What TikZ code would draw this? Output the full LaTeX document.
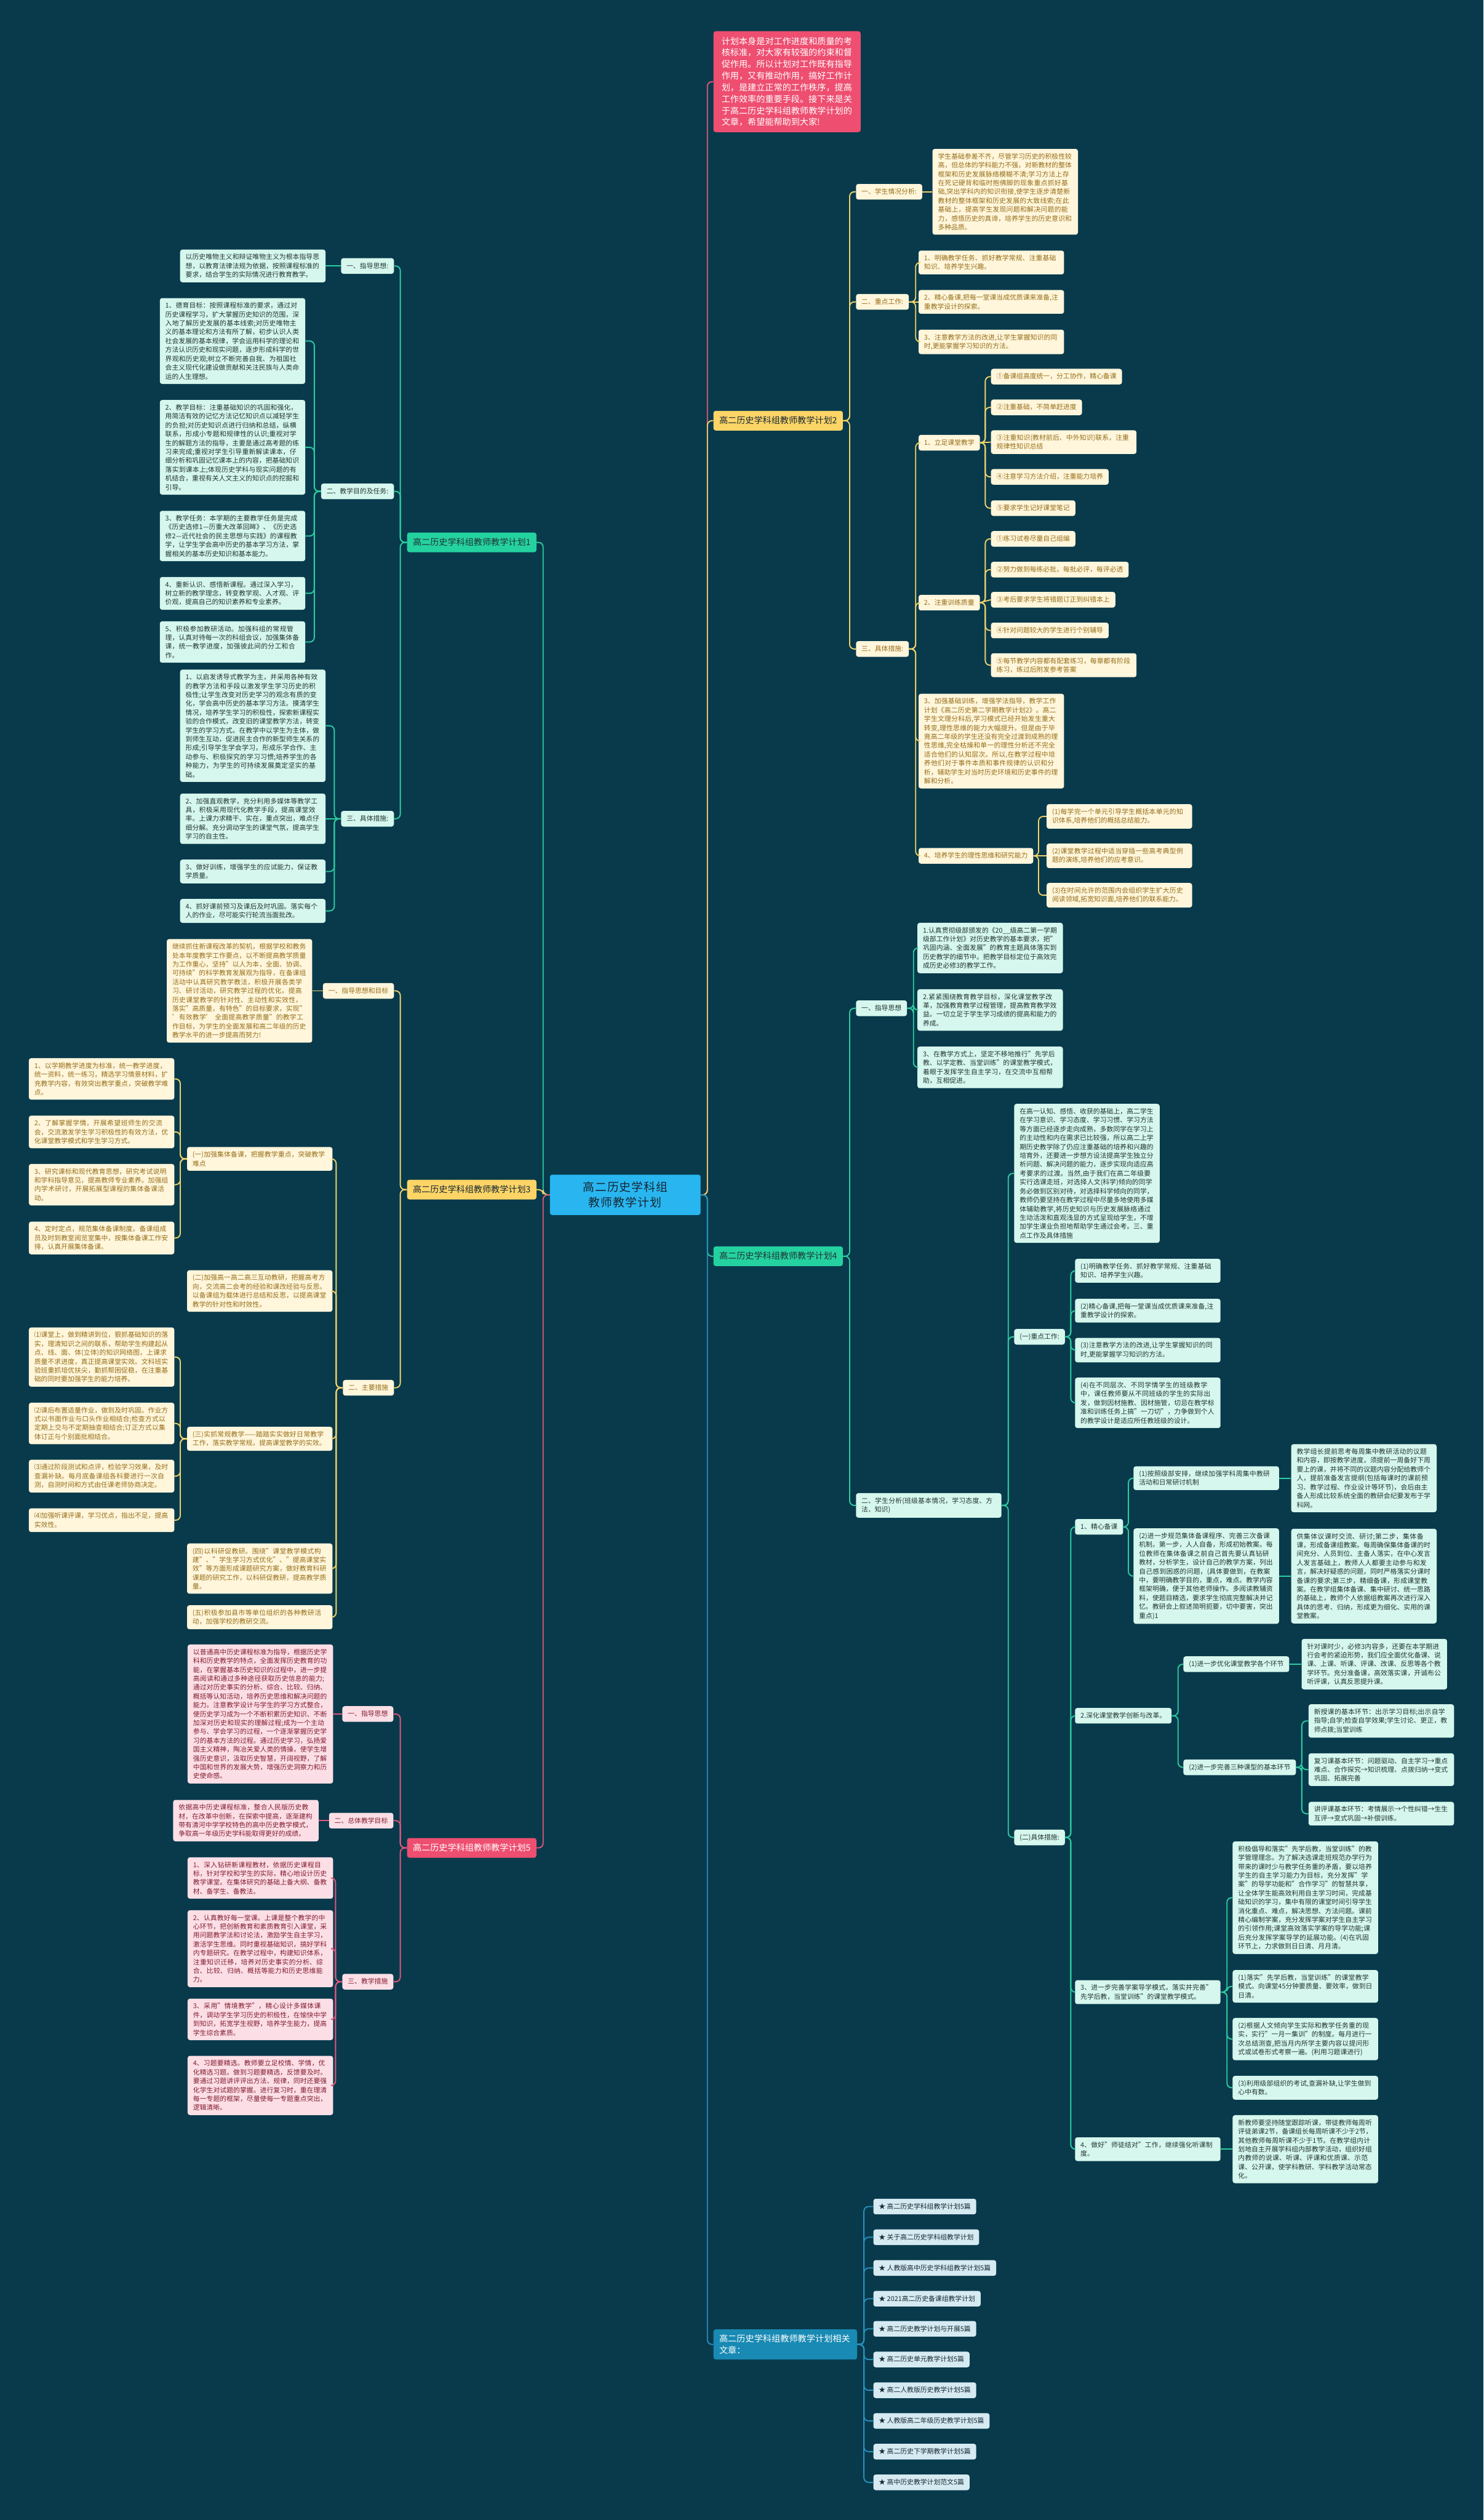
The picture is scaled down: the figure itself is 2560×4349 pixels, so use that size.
\documentclass[tikz,border=0pt]{standalone}
\usepackage{fontspec}
\setmainfont{Noto Sans CJK SC}
\XeTeXlinebreaklocale "zh"
\XeTeXlinebreakskip = 0pt plus 1pt
\newcommand\leafsize{\fontsize{11.5}{15.3}\selectfont}
\newcommand\labelsize{\fontsize{15}{20}\selectfont}
\newcommand\rootsize{\fontsize{20}{27}\selectfont}
\definecolor{bgcol}{RGB}{8,58,76}
\definecolor{rootfill}{RGB}{41,182,240}
\definecolor{greenline}{RGB}{46,204,160}
\definecolor{greenfill}{RGB}{36,210,160}
\definecolor{mintfill}{RGB}{214,247,237}
\definecolor{minttext}{RGB}{34,52,52}
\definecolor{yellowline}{RGB}{242,211,104}
\definecolor{yellowfill}{RGB}{253,213,102}
\definecolor{creamfill}{RGB}{255,246,220}
\definecolor{creamtext}{RGB}{150,110,24}
\definecolor{pinkline}{RGB}{226,86,122}
\definecolor{pinkfill}{RGB}{238,78,112}
\definecolor{rosefill}{RGB}{252,223,230}
\definecolor{rosetext}{RGB}{130,28,48}
\definecolor{blueline}{RGB}{40,144,188}
\definecolor{bluefill}{RGB}{24,138,180}
\definecolor{icefill}{RGB}{214,234,242}
\definecolor{icetext}{RGB}{22,40,52}

\begin{document}
\begin{tikzpicture}[
        x=1pt, y=-1pt,
        every node/.style={rounded corners=4pt, inner xsep=9.5pt, inner ysep=7.5pt, font=\leafsize},
        leaf/.style={text width=232pt, align=left},
        tag/.style={text height=10pt, text depth=2pt},
        branch/.style={font=\labelsize, inner xsep=10pt, inner ysep=9pt, text height=13pt, text depth=3pt},
        rootbox/.style={fill=rootfill, text=icetext, font=\rootsize, text width=222pt, align=center, inner xsep=19pt, inner ysep=12pt},
        introbox/.style={fill=pinkfill, text=white, font=\labelsize, text width=226pt, align=left, inner xsep=14pt, inner ysep=10pt},
        mint/.style={fill=mintfill, text=minttext},
        cream/.style={fill=creamfill, text=creamtext},
        rose/.style={fill=rosefill, text=rosetext},
        ice/.style={fill=icefill, text=icetext},
        glink/.style={draw=greenline, line width=2pt, rounded corners=8pt},
        ylink/.style={draw=yellowline, line width=2pt, rounded corners=8pt},
        plink/.style={draw=pinkline, line width=2pt, rounded corners=8pt},
        blink/.style={draw=blueline, line width=2pt, rounded corners=8pt}
    ]
    \useasboundingbox (0,0) rectangle (2560,4349);
    \fill[bgcol] (0,0) rectangle (2560,4349);

    % Nodes
    \node[rootbox] (root) at (1079,2062) {高二历史学科组教师教学计划};

    \node[introbox, anchor=west] (intro) at (1231,141) {计划本身是对工作进度和质量的考核标准，对大家有较强的约束和督促作用。所以计划对工作既有指导作用，又有推动作用，搞好工作计划，是建立正常的工作秩序，提高工作效率的重要手段。接下来是关于高二历史学科组教师教学计划的文章，希望能帮助到大家!};

    % plan 1 (left, green)
    \node[branch, fill=greenfill, text=minttext, anchor=east] (plan1) at (926,936) {高二历史学科组教师教学计划1};
    \node[tag, mint, anchor=east] (guide1) at (680,459) {一、指导思想:};
    \node[leaf, mint, anchor=east] (guide1t) at (562,459) {以历史唯物主义和辩证唯物主义为根本指导思想，以教育法律法规为依据，按照课程标准的要求，结合学生的实际情况进行教育教学。};
    \node[tag, mint, anchor=east] (aim1) at (680,848) {二、教学目的及任务:};
    \node[leaf, mint, anchor=east] (aim1a) at (527,588.5) {1、德育目标：按照课程标准的要求，通过对历史课程学习，扩大掌握历史知识的范围，深入地了解历史发展的基本线索;对历史唯物主义的基本理论和方法有所了解，初步认识人类社会发展的基本规律，学会运用科学的理论和方法认识历史和现实问题，逐步形成科学的世界观和历史观;树立不断完善自我、为祖国社会主义现代化建设做贡献和关注民族与人类命运的人生理想。};
    \node[leaf, mint, anchor=east] (aim1b) at (527,772) {2、教学目标：注重基础知识的巩固和强化，用简洁有效的记忆方法记忆知识点以减轻学生的负担;对历史知识点进行归纳和总结，纵横联系，形成小专题和规律性的认识;重视对学生的解题方法的指导，主要是通过高考题的练习来完成;重视对学生引导重新解读课本，仔细分析和巩固记忆课本上的内容，把基础知识落实到课本上;体现历史学科与现实问题的有机结合，重视有关人文主义的知识点的挖掘和引导。};
    \node[leaf, mint, anchor=east] (aim1c) at (527,925) {3、教学任务：本学期的主要教学任务是完成《历史选修1—历重大改革回眸》、《历史选修2—近代社会的民主思想与实践》的课程教学，让学生学会高中历史的基本学习方法，掌握相关的基本历史知识和基本能力。};
    \node[leaf, mint, anchor=east] (aim1d) at (527,1024) {4、重新认识、感悟新课程。通过深入学习，树立新的教学理念，转变教学观、人才观、评价观，提高自己的知识素养和专业素养。};
    \node[leaf, mint, anchor=east] (aim1e) at (527,1108) {5、积极参加教研活动。加强科组的常规管理，认真对待每一次的科组会议，加强集体备课，统一教学进度，加强彼此间的分工和合作。};
    \node[tag, mint, anchor=east] (step1) at (680,1413) {三、具体措施:};
    \node[leaf, mint, anchor=east] (step1a) at (562,1252.5) {1、以启发诱导式教学为主，并采用各种有效的教学方法和手段以激发学生学习历史的积极性;让学生改变对历史学习的观念有质的变化，学会高中历史的基本学习方法。摸清学生情况，培养学生学习的积极性，探索新课程实验的合作模式，改变旧的课堂教学方法，转变学生的学习方式。在教学中以学生为主体，做到师生互动，促进民主合作的新型师生关系的形成;引导学生学会学习，形成乐学合作、主动参与、积极探究的学习习惯;培养学生的各种能力，为学生的可持续发展奠定坚实的基础。};
    \node[leaf, mint, anchor=east] (step1b) at (562,1413) {2、加强直观教学，充分利用多媒体等教学工具，积极采用现代化教学手段，提高课堂效率。上课力求精干、实在，重点突出，难点仔细分解。充分调动学生的课堂气氛，提高学生学习的自主性。};
    \node[leaf, mint, anchor=east] (step1c) at (562,1504) {3、做好训练，增强学生的应试能力，保证教学质量。};
    \node[leaf, mint, anchor=east] (step1d) at (562,1572) {4、抓好课前预习及课后及时巩固。落实每个人的作业，尽可能实行轮流当面批改。};

    % plan 3 (left, yellow)
    \node[branch, fill=yellowfill, text=icetext, anchor=east] (plan3) at (926,2053) {高二历史学科组教师教学计划3};
    \node[tag, cream, anchor=east] (guide3) at (680,1710) {一、指导思想和目标};
    \node[leaf, cream, anchor=east] (guide3t) at (539,1710) {继续抓住新课程改革的契机，根据学校和教务处本年度教学工作要点，以不断提高教学质量为工作重心，坚持"以人为本，全面、协调、可持续"的科学教育发展观为指导，在备课组活动中认真研究教学教法，积极开展各类学习、研讨活动，研究教学过程的优化，提高历史课堂教学的针对性、主动性和实效性，落实"高质量，有特色"的目标要求，实现" '有效教学' 全面提高教学质量"的教学工作目标，为学生的全面发展和高二年级的历史教学水平的进一步提高而努力!};
    \node[tag, cream, anchor=east] (step3) at (680,2395) {二、主要措施};
    \node[leaf, cream, anchor=east] (step3a) at (574,2000) {(一)加强集体备课，把握教学重点，突破教学难点};
    \node[leaf, cream, anchor=east] (step3a1) at (301,1862) {1、以学期教学进度为标准，统一教学进度，统一资料，统一练习，精选学习情景材料，扩充教学内容，有效突出教学重点，突破教学难点。};
    \node[leaf, cream, anchor=east] (step3a2) at (301,1953.5) {2、了解掌握学情，开展希望班师生的交流会，交流激发学生学习积极性的有效方法，优化课堂教学模式和学生学习方式。};
    \node[leaf, cream, anchor=east] (step3a3) at (301,2044.5) {3、研究课标和现代教育思想，研究考试说明和学科指导意见，提高教师专业素养。加强组内学术研讨，开展拓展型课程的集体备课活动。};
    \node[leaf, cream, anchor=east] (step3a4) at (301,2136.5) {4、定时定点，规范集体备课制度。备课组成员及时到教室阅览室集中，按集体备课工作安排，认真开展集体备课。};
    \node[leaf, cream, anchor=east] (step3b) at (574,2228) {(二)加强高一高二高三互动教研，把握高考方向，交流高二会考的经验和课改经验与反思。以备课组为载体进行总结和反思，以提高课堂教学的针对性和时效性。};
    \node[leaf, cream, anchor=east] (step3c) at (574,2483) {(三)实抓常规教学——踏踏实实做好日常教学工作，落实教学常规，提高课堂教学的实效。};
    \node[leaf, cream, anchor=east] (step3c1) at (301,2342) {⑴课堂上，做到精讲到位，狠抓基础知识的落实，理清知识之间的联系，帮助学生构建起从点、线、面、体(立体)的知识网络图，上课求质量不求进度，真正提高课堂实效。文科班实验班重抓培优扶尖，勤抓帮困促稳，在注重基础的同时要加强学生的能力培养。};
    \node[leaf, cream, anchor=east] (step3c2) at (301,2456.5) {⑵课后布置适量作业，做到及时巩固。作业方式以书面作业与口头作业相结合;检查方式以定期上交与不定期抽查相结合;订正方式以集体订正与个别面批相结合。};
    \node[leaf, cream, anchor=east] (step3c3) at (301,2547.5) {⑶通过阶段测试和点评，检验学习效果，及时查漏补缺。每月底备课组各科要进行一次自测，自测时间和方式由任课老师协商决定。};
    \node[leaf, cream, anchor=east] (step3c4) at (301,2623.5) {⑷加强听课评课，学习优点，指出不足，提高实效性。};
    \node[leaf, cream, anchor=east] (step3d) at (574,2707) {(四)以科研促教研。围绕"课堂教学模式构建"、"学生学习方式优化"、"提高课堂实效"等方面形成课题研究方案，做好教育科研课题的研究工作，以科研促教研，提高教学质量。};
    \node[leaf, cream, anchor=east] (step3e) at (574,2791) {(五)积极参加县市等单位组织的各种教研活动，加强学校的教研交流。};

    % plan 5 (left, pink)
    \node[branch, fill=pinkfill, text=white, anchor=east] (plan5) at (926,3189) {高二历史学科组教师教学计划5};
    \node[tag, rose, anchor=east] (guide5) at (679,2958) {一、指导思想};
    \node[leaf, rose, anchor=east] (guide5t) at (575,2958) {以普通高中历史课程标准为指导，根据历史学科和历史教学的特点，全面发挥历史教育的功能，在掌握基本历史知识的过程中，进一步提高阅读和通过多种途径获取历史信息的能力;通过对历史事实的分析、综合、比较、归纳、概括等认知活动，培养历史思维和解决问题的能力。注意教学设计与学生的学习方式整合，使历史学习成为一个不断积累历史知识、不断加深对历史和现实的理解过程;成为一个主动参与、学会学习的过程，一个逐渐掌握历史学习的基本方法的过程。通过历史学习，弘扬爱国主义精神，陶冶关爱人类的情操，使学生增强历史意识，汲取历史智慧，开阔视野，了解中国和世界的发展大势，增强历史洞察力和历史使命感。};
    \node[tag, rose, anchor=east] (aim5) at (679,3142) {二、总体教学目标};
    \node[leaf, rose, anchor=east] (aim5t) at (550,3142) {依据高中历史课程标准，整合人民版历史教材，在改革中创新，在探索中提高，逐渐建构带有清河中学学校特色的高中历史教学模式，争取高一年级历史学科能取得更好的成绩。};
    \node[tag, rose, anchor=east] (step5) at (679,3420) {三、教学措施};
    \node[leaf, rose, anchor=east] (step5a) at (575,3241) {1、深入钻研新课程教材，依据历史课程目标，针对学校和学生的实际，精心地设计历史教学课堂。在集体研究的基础上备大纲、备教材、备学生、备教法。};
    \node[leaf, rose, anchor=east] (step5b) at (575,3363) {2、认真教好每一堂课。上课是整个教学的中心环节，把创新教育和素质教育引入课堂，采用问题教学法和讨论法，激励学生自主学习，激活学生思维。同时重视基础知识，搞好学科内专题研究。在教学过程中，构建知识体系，注重知识迁移，培养对历史事实的分析、综合、比较、归纳、概括等能力和历史思维能力。};
    \node[leaf, rose, anchor=east] (step5c) at (575,3485) {3、采用"情境教学"，精心设计多媒体课件，调动学生学习历史的积极性，在愉快中学到知识，拓宽学生视野，培养学生能力，提高学生综合素质。};
    \node[leaf, rose, anchor=east] (step5d) at (575,3599) {4、习题要精选。教师要立足校情、学情，优化精选习题。做到习题要精选，反馈要及时。要通过习题讲评评出方法、规律，同时还要强化学生对试题的掌握。进行复习时，重在理清每一专题的框架，尽量使每一专题重点突出，逻辑清晰。};

    % plan 2 (right, yellow)
    \node[branch, fill=yellowfill, text=icetext, anchor=west] (plan2) at (1231,726) {高二历史学科组教师教学计划2};
    \node[tag, cream, anchor=west] (pupil2) at (1477,331) {一、学生情况分析:};
    \node[leaf, cream, anchor=west] (pupil2t) at (1609,331) {学生基础参差不齐，尽管学习历史的积极性较高，但总体的学科能力不强，对新教材的整体框架和历史发展脉络模糊不清;学习方法上存在死记硬背和临时抱佛脚的现象重点抓好基础,突出学科内的知识衔接,使学生逐步清楚新教材的整体框架和历史发展的大致线索;在此基础上，提高学生发现问题和解决问题的能力，感悟历史的真谛，培养学生的历史意识和多种品质。};
    \node[tag, cream, anchor=west] (key2) at (1477,521) {二、重点工作:};
    \node[leaf, cream, anchor=west] (key2a) at (1585,453) {1、明确教学任务、抓好教学常规、注重基础知识、培养学生兴趣。};
    \node[leaf, cream, anchor=west] (key2b) at (1585,521) {2、精心备课,把每一堂课当成优质课来准备,注重教学设计的探索。};
    \node[leaf, cream, anchor=west] (key2c) at (1585,590) {3、注意教学方法的改进,让学生掌握知识的同时,更能掌握学习知识的方法。};
    \node[tag, cream, anchor=west] (step2) at (1477,1120) {三、具体措施:};
    \node[tag, cream, anchor=west] (class2) at (1585,764) {1、立足课堂教学};
    \node[tag, cream, anchor=west] (class2a) at (1710,650) {①备课组高度统一，分工协作，精心备课};
    \node[tag, cream, anchor=west] (class2b) at (1710,703) {②注重基础，不简单赶进度};
    \node[leaf, cream, anchor=west] (class2c) at (1710,763) {③注重知识(教材前后、中外知识)联系，注重规律性知识总结};
    \node[tag, cream, anchor=west] (class2d) at (1710,823) {④注意学习方法介绍，注重能力培养};
    \node[tag, cream, anchor=west] (class2e) at (1710,877) {⑤要求学生记好课堂笔记};
    \node[tag, cream, anchor=west] (drill2) at (1585,1040) {2、注重训练质量};
    \node[tag, cream, anchor=west] (drill2a) at (1710,930) {①练习试卷尽量自己组编};
    \node[tag, cream, anchor=west] (drill2b) at (1710,983) {②努力做到每练必批，每批必评，每评必透};
    \node[tag, cream, anchor=west] (drill2c) at (1710,1035) {③考后要求学生将错题订正到纠错本上};
    \node[tag, cream, anchor=west] (drill2d) at (1710,1088) {④针对问题较大的学生进行个别辅导};
    \node[leaf, cream, anchor=west] (drill2e) at (1710,1148) {⑤每节教学内容都有配套练习，每章都有阶段练习，练过后附发参考答案};
    \node[leaf, cream, anchor=west] (basis2) at (1585,1279) {3、加强基础训练，增强学法指导，教学工作计划《高二历史第二学期教学计划2》。高二学生文理分科后,学习模式已经开始发生重大转变,理性思维的能力大幅提升。但是由于毕竟高二年级的学生还没有完全过渡到成熟的理性思维,完全枯燥和单一的理性分析还不完全适合他们的认知层次。所以,在教学过程中培养他们对于事件本质和事件规律的认识和分析，辅助学生对当时历史环境和历史事件的理解和分析。};
    \node[tag, cream, anchor=west] (think2) at (1585,1477) {4、培养学生的理性思维和研究能力};
    \node[leaf, cream, anchor=west] (think2a) at (1806,1409) {(1)每学完一个单元引导学生概括本单元的知识体系,培养他们的概括总结能力。};
    \node[leaf, cream, anchor=west] (think2b) at (1806,1477) {(2)课堂教学过程中适当穿插一些高考典型例题的演练,培养他们的应考意识。};
    \node[leaf, cream, anchor=west] (think2c) at (1806,1545) {(3)在时间允许的范围内会组织学生扩大历史阅读领域,拓宽知识面,培养他们的联系能力。};

    % plan 4 (right, green)
    \node[branch, fill=greenfill, text=minttext, anchor=west] (plan4) at (1231,2168) {高二历史学科组教师教学计划4};
    \node[tag, mint, anchor=west] (guide4) at (1477,1740) {一、指导思想};
    \node[leaf, mint, anchor=west] (guide4a) at (1583,1636) {1.认真贯彻级部颁发的《20\_\_级高二第一学期级部工作计划》对历史教学的基本要求，把"巩固内涵、全面发展"的教育主题具体落实到历史教学的细节中。把教学目标定位于高效完成历史必修3的教学工作。};
    \node[leaf, mint, anchor=west] (guide4b) at (1583,1743) {2.紧紧围绕教育教学目标，深化课堂教学改革，加强教育教学过程管理，提高教育教学效益。一切立足于学生学习成绩的提高和能力的养成。};
    \node[leaf, mint, anchor=west] (guide4c) at (1583,1842) {3、在教学方式上，坚定不移地推行"先学后教、以学定教、当堂训练"的课堂教学模式，着眼于发挥学生自主学习，在交流中互相帮助，互相促进。};
    \node[leaf, mint, anchor=west] (pupil4) at (1477,2598) {二、学生分析(班级基本情况，学习态度、方法、知识)};
    \node[leaf, mint, anchor=west] (pupil4t) at (1750,2025) {在高一认知、感悟、收获的基础上，高二学生在学习意识、学习态度、学习习惯、学习方法等方面已经逐步走向成熟，多数同学在学习上的主动性和内在需求已比较强，所以高二上学期历史教学除了仍应注重基础的培养和兴趣的培育外，还要进一步想方设法提高学生独立分析问题、解决问题的能力，逐步实现向适应高考要求的过渡。当然,由于我们在高二年级要实行选课走班，对选择人文(科学)倾向的同学务必做到区别对待，对选择科学倾向的同学，教师仍要坚持在教学过程中尽量多地使用多媒体辅助教学,将历史知识与历史发展脉络通过生动活泼和直观浅显的方式呈现给学生，不增加学生课业负担地帮助学生通过会考。三、重点工作及具体措施};
    \node[tag, mint, anchor=west] (key4) at (1750,2307) {(一)重点工作:};
    \node[leaf, mint, anchor=west] (key4a) at (1855,2193) {(1)明确教学任务、抓好教学常规、注重基础知识、培养学生兴趣。};
    \node[leaf, mint, anchor=west] (key4b) at (1855,2262) {(2)精心备课,把每一堂课当成优质课来准备,注重教学设计的探索。};
    \node[leaf, mint, anchor=west] (key4c) at (1855,2330) {(3)注意教学方法的改进,让学生掌握知识的同时,更能掌握学习知识的方法。};
    \node[leaf, mint, anchor=west] (key4d) at (1855,2421) {(4)在不同层次、不同学情学生的班级教学中，课任教师要从不同班级的学生的实际出发，做到因材施教、因材施管，切忌在教学标准和训练任务上搞"一刀切"，力争做到个人的教学设计是适应所任教班级的设计。};
    \node[tag, mint, anchor=west] (step4) at (1750,3171) {(二)具体措施:};
    \node[tag, mint, anchor=west] (prep4) at (1855,2635) {1、精心备课};
    \node[leaf, mint, anchor=west] (prep4a) at (1956,2551) {(1)按照级部安排，继续加强学科周集中教研活动和日常研讨机制};
    \node[leaf, mint, anchor=west] (prep4at) at (2228,2551) {教学组长提前思考每周集中教研活动的议题和内容，即按教学进度，须提前一周备好下周要上的课，并将不同的议题内容分配给教师个人，提前准备发言提纲(包括每课时的课前预习、教学过程、作业设计等环节)，会后由主备人形成比较系统全面的教研会纪要发布于学科网。};
    \node[leaf, mint, anchor=west] (prep4b) at (1956,2720) {(2)进一步规范集体备课程序、完善三次备课机制。第一步，人人自备，形成初始教案。每位教师在集体备课之前自己首先要认真钻研教材，分析学生，设计自己的教学方案，列出自己感到困惑的问题，(具体要做到，在教案中，要明确教学目的，重点，难点。教学内容框架明确，便于其他老师操作。多阅读教辅资料，使题目精选，要求学生彻底完整解决并记忆。教研会上叙述简明扼要，切中要害，突出重点)1};
    \node[leaf, mint, anchor=west] (prep4bt) at (2228,2720) {供集体议课时交流、研讨;第二步，集体备课，形成备课组教案。每周确保集体备课的时间充分、人员到位、主备人落实，在中心发言人发言基础上，教师人人都要主动参与和发言，解决好疑惑的问题，同时严格落实分课时备课的要求;第三步，精细备课，形成课堂教案。在教学组集体备课、集中研讨、统一思路的基础上，教师个人依据组教案再次进行深入具体的思考、归纳，形成更为细化、实用的课堂教案。};
    \node[tag, mint, anchor=west] (reform4) at (1855,2961) {2.深化课堂教学创新与改革。};
    \node[tag, mint, anchor=west] (reform4a) at (2042,2872) {(1)进一步优化课堂教学各个环节};
    \node[leaf, mint, anchor=west] (reform4at) at (2246,2872) {针对课时少，必修3内容多，还要在本学期进行会考的紧迫形势，我们应全面优化备课、说课、上课、听课、评课、改课、反思等各个教学环节。充分准备课，高效落实课，开诚布公听评课，认真反思提升课。};
    \node[tag, mint, anchor=west] (reform4b) at (2042,3050) {(2)进一步完善三种课型的基本环节};
    \node[leaf, mint, anchor=west] (lesson4a) at (2258,2970) {新授课的基本环节：出示学习目标;出示自学指导;自学;检查自学效果;学生讨论、更正，教师点拨;当堂训练};
    \node[leaf, mint, anchor=west] (lesson4b) at (2258,3054) {复习课基本环节：问题驱动、自主学习→重点难点、合作探究→知识梳理、点拨归纳→变式巩固、拓展完善};
    \node[leaf, mint, anchor=west] (lesson4c) at (2258,3130) {讲评课基本环节：考情展示→个性纠错→生生互评→变式巩固→补偿训练。};
    \node[leaf, mint, anchor=west] (mode4) at (1855,3438) {3、进一步完善学案导学模式，落实并完善"先学后教，当堂训练"的课堂教学模式。};
    \node[leaf, mint, anchor=west] (mode4a) at (2127,3275) {积极倡导和落实"先学后教，当堂训练"的教学管理理念。为了解决选课走班规范办学行为带来的课时少与教学任务重的矛盾，要以培养学生的自主学习能力为目标，充分发挥"学案"的导学功能和"合作学习"的智慧共享，让全体学生能高效利用自主学习时间，完成基础知识的学习，集中有限的课堂时间引导学生消化重点、难点，解决思想、方法问题。课前精心编制学案，充分发挥学案对学生自主学习的引领作用;课堂高效落实学案的导学功能;课后充分发挥学案导学的延展功能。(4)在巩固环节上，力求做到日日清、月月清。};
    \node[leaf, mint, anchor=west] (mode4b) at (2127,3428) {(1)落实"先学后教，当堂训练"的课堂教学模式。向课堂45分钟要质量、要效率，做到日日清。};
    \node[leaf, mint, anchor=west] (mode4c) at (2127,3519) {(2)根据人文倾向学生实际和教学任务重的现实，实行"一月一集训"的制度。每月进行一次总结测查,把当月内所学主要内容以提问形式或试卷形式考察一遍。(利用习题课进行)};
    \node[leaf, mint, anchor=west] (mode4d) at (2127,3603) {(3)利用级部组织的考试,查漏补缺,让学生做到心中有数。};
    \node[leaf, mint, anchor=west] (pair4) at (1855,3709) {4、做好"师徒结对"工作，继续强化听课制度。};
    \node[leaf, mint, anchor=west] (pair4t) at (2127,3709) {新教师要坚持随堂跟踪听课，带徒教师每周听评徒弟课2节，备课组长每周听课不少于2节，其他教师每周听课不少于1节。在教学组内计划地自主开展学科组内部教学活动，组织好组内教师的说课、听课、评课和优质课、示范课、公开课，使学科教研、学科教学活动常态化。};

    % related articles (right, blue)
    \node[branch, fill=bluefill, text=white, anchor=west, text width=228pt, align=left, text height=, text depth=] (more) at (1231,4046) {高二历史学科组教师教学计划相关文章：};
    \node[tag, ice, anchor=west] (more1) at (1507,3808) {★ 高二历史学科组教学计划5篇};
    \node[tag, ice, anchor=west] (more2) at (1507,3861) {★ 关于高二历史学科组教学计划};
    \node[tag, ice, anchor=west] (more3) at (1507,3914) {★ 人教版高中历史学科组教学计划5篇};
    \node[tag, ice, anchor=west] (more4) at (1507,3967) {★ 2021高二历史备课组教学计划};
    \node[tag, ice, anchor=west] (more5) at (1507,4019) {★ 高二历史教学计划与开展5篇};
    \node[tag, ice, anchor=west] (more6) at (1507,4072) {★ 高二历史单元教学计划5篇};
    \node[tag, ice, anchor=west] (more7) at (1507,4125) {★ 高二人教版历史教学计划5篇};
    \node[tag, ice, anchor=west] (more8) at (1507,4178) {★ 人教版高二年级历史教学计划5篇};
    \node[tag, ice, anchor=west] (more9) at (1507,4231) {★ 高二历史下学期教学计划5篇};
    \node[tag, ice, anchor=west] (more10) at (1507,4284) {★ 高中历史教学计划范文5篇};

    % Edges
    \draw[plink] (root.east) -- ++(11.5,0) |- (intro.west);
    \draw[ylink] (root.east) -- ++(11.5,0) |- (plan2.west);
    \draw[glink] (root.east) -- ++(11.5,0) |- (plan4.west);
    \draw[blink] (root.east) -- ++(11.5,0) |- (more.west);
    \draw[glink] (root.west) -- ++(-11.5,0) |- (plan1.east);
    \draw[ylink] (root.west) -- ++(-11.5,0) |- (plan3.east);
    \draw[plink] (root.west) -- ++(-11.5,0) |- (plan5.east);

    % plan 1
    \draw[glink] (plan1.west) -- ++(-11.5,0) |- (guide1.east);
    \draw[glink] (plan1.west) -- ++(-11.5,0) |- (aim1.east);
    \draw[glink] (plan1.west) -- ++(-11.5,0) |- (step1.east);
    \draw[glink] (guide1.west) -- (guide1t.east);
    \draw[glink] (aim1.west) -- ++(-11.5,0) |- (aim1a.east);
    \draw[glink] (aim1.west) -- ++(-11.5,0) |- (aim1b.east);
    \draw[glink] (aim1.west) -- ++(-11.5,0) |- (aim1c.east);
    \draw[glink] (aim1.west) -- ++(-11.5,0) |- (aim1d.east);
    \draw[glink] (aim1.west) -- ++(-11.5,0) |- (aim1e.east);
    \draw[glink] (step1.west) -- ++(-11.5,0) |- (step1a.east);
    \draw[glink] (step1.west) -- (step1b.east);
    \draw[glink] (step1.west) -- ++(-11.5,0) |- (step1c.east);
    \draw[glink] (step1.west) -- ++(-11.5,0) |- (step1d.east);

    % plan 3
    \draw[ylink] (plan3.west) -- ++(-11.5,0) |- (guide3.east);
    \draw[ylink] (plan3.west) -- ++(-11.5,0) |- (step3.east);
    \draw[ylink] (guide3.west) -- (guide3t.east);
    \draw[ylink] (step3.west) -- ++(-11.5,0) |- (step3a.east);
    \draw[ylink] (step3.west) -- ++(-11.5,0) |- (step3b.east);
    \draw[ylink] (step3.west) -- ++(-11.5,0) |- (step3c.east);
    \draw[ylink] (step3.west) -- ++(-11.5,0) |- (step3d.east);
    \draw[ylink] (step3.west) -- ++(-11.5,0) |- (step3e.east);
    \draw[ylink] (step3a.west) -- ++(-11.5,0) |- (step3a1.east);
    \draw[ylink] (step3a.west) -- ++(-11.5,0) |- (step3a2.east);
    \draw[ylink] (step3a.west) -- ++(-11.5,0) |- (step3a3.east);
    \draw[ylink] (step3a.west) -- ++(-11.5,0) |- (step3a4.east);
    \draw[ylink] (step3c.west) -- ++(-11.5,0) |- (step3c1.east);
    \draw[ylink] (step3c.west) -- ++(-11.5,0) |- (step3c2.east);
    \draw[ylink] (step3c.west) -- ++(-11.5,0) |- (step3c3.east);
    \draw[ylink] (step3c.west) -- ++(-11.5,0) |- (step3c4.east);

    % plan 5
    \draw[plink] (plan5.west) -- ++(-11.5,0) |- (guide5.east);
    \draw[plink] (plan5.west) -- ++(-11.5,0) |- (aim5.east);
    \draw[plink] (plan5.west) -- ++(-11.5,0) |- (step5.east);
    \draw[plink] (guide5.west) -- (guide5t.east);
    \draw[plink] (aim5.west) -- (aim5t.east);
    \draw[plink] (step5.west) -- ++(-11.5,0) |- (step5a.east);
    \draw[plink] (step5.west) -- ++(-11.5,0) |- (step5b.east);
    \draw[plink] (step5.west) -- ++(-11.5,0) |- (step5c.east);
    \draw[plink] (step5.west) -- ++(-11.5,0) |- (step5d.east);

    % plan 2
    \draw[ylink] (plan2.east) -- ++(11.5,0) |- (pupil2.west);
    \draw[ylink] (plan2.east) -- ++(11.5,0) |- (key2.west);
    \draw[ylink] (plan2.east) -- ++(11.5,0) |- (step2.west);
    \draw[ylink] (pupil2.east) -- (pupil2t.west);
    \draw[ylink] (key2.east) -- ++(11.5,0) |- (key2a.west);
    \draw[ylink] (key2.east) -- (key2b.west);
    \draw[ylink] (key2.east) -- ++(11.5,0) |- (key2c.west);
    \draw[ylink] (step2.east) -- ++(11.5,0) |- (class2.west);
    \draw[ylink] (step2.east) -- ++(11.5,0) |- (drill2.west);
    \draw[ylink] (step2.east) -- ++(11.5,0) |- (basis2.west);
    \draw[ylink] (step2.east) -- ++(11.5,0) |- (think2.west);
    \draw[ylink] (class2.east) -- ++(9,0) |- (class2a.west);
    \draw[ylink] (class2.east) -- ++(9,0) |- (class2b.west);
    \draw[ylink] (class2.east) -- (class2c.west);
    \draw[ylink] (class2.east) -- ++(9,0) |- (class2d.west);
    \draw[ylink] (class2.east) -- ++(9,0) |- (class2e.west);
    \draw[ylink] (drill2.east) -- ++(9,0) |- (drill2a.west);
    \draw[ylink] (drill2.east) -- ++(9,0) |- (drill2b.west);
    \draw[ylink] (drill2.east) -- (drill2c.west);
    \draw[ylink] (drill2.east) -- ++(9,0) |- (drill2d.west);
    \draw[ylink] (drill2.east) -- ++(9,0) |- (drill2e.west);
    \draw[ylink] (think2.east) -- ++(9,0) |- (think2a.west);
    \draw[ylink] (think2.east) -- (think2b.west);
    \draw[ylink] (think2.east) -- ++(9,0) |- (think2c.west);

    % plan 4
    \draw[glink] (plan4.east) -- ++(11.5,0) |- (guide4.west);
    \draw[glink] (plan4.east) -- ++(11.5,0) |- (pupil4.west);
    \draw[glink] (guide4.east) -- ++(11,0) |- (guide4a.west);
    \draw[glink] (guide4.east) -- ++(11,0) |- (guide4b.west);
    \draw[glink] (guide4.east) -- ++(11,0) |- (guide4c.west);
    \draw[glink] (pupil4.east) -- ++(11.5,0) |- (pupil4t.west);
    \draw[glink] (pupil4.east) -- ++(11.5,0) |- (key4.west);
    \draw[glink] (pupil4.east) -- ++(11.5,0) |- (step4.west);
    \draw[glink] (key4.east) -- ++(10,0) |- (key4a.west);
    \draw[glink] (key4.east) -- ++(10,0) |- (key4b.west);
    \draw[glink] (key4.east) -- ++(10,0) |- (key4c.west);
    \draw[glink] (key4.east) -- ++(10,0) |- (key4d.west);
    \draw[glink] (step4.east) -- ++(10,0) |- (prep4.west);
    \draw[glink] (step4.east) -- ++(10,0) |- (reform4.west);
    \draw[glink] (step4.east) -- ++(10,0) |- (mode4.west);
    \draw[glink] (step4.east) -- ++(10,0) |- (pair4.west);
    \draw[glink] (prep4.east) -- ++(9,0) |- (prep4a.west);
    \draw[glink] (prep4.east) -- ++(9,0) |- (prep4b.west);
    \draw[glink] (prep4a.east) -- (prep4at.west);
    \draw[glink] (prep4b.east) -- (prep4bt.west);
    \draw[glink] (reform4.east) -- ++(11,0) |- (reform4a.west);
    \draw[glink] (reform4.east) -- ++(11,0) |- (reform4b.west);
    \draw[glink] (reform4a.east) -- (reform4at.west);
    \draw[glink] (reform4b.east) -- ++(10,0) |- (lesson4a.west);
    \draw[glink] (reform4b.east) -- ++(10,0) |- (lesson4b.west);
    \draw[glink] (reform4b.east) -- ++(10,0) |- (lesson4c.west);
    \draw[glink] (mode4.east) -- ++(11,0) |- (mode4a.west);
    \draw[glink] (mode4.east) -- ++(11,0) |- (mode4b.west);
    \draw[glink] (mode4.east) -- ++(11,0) |- (mode4c.west);
    \draw[glink] (mode4.east) -- ++(11,0) |- (mode4d.west);
    \draw[glink] (pair4.east) -- (pair4t.west);

    % related
    \draw[blink] (more.east) -- ++(11.5,0) |- (more1.west);
    \draw[blink] (more.east) -- ++(11.5,0) |- (more2.west);
    \draw[blink] (more.east) -- ++(11.5,0) |- (more3.west);
    \draw[blink] (more.east) -- ++(11.5,0) |- (more4.west);
    \draw[blink] (more.east) -- ++(11.5,0) |- (more5.west);
    \draw[blink] (more.east) -- ++(11.5,0) |- (more6.west);
    \draw[blink] (more.east) -- ++(11.5,0) |- (more7.west);
    \draw[blink] (more.east) -- ++(11.5,0) |- (more8.west);
    \draw[blink] (more.east) -- ++(11.5,0) |- (more9.west);
    \draw[blink] (more.east) -- ++(11.5,0) |- (more10.west);

\end{tikzpicture}
\end{document}
